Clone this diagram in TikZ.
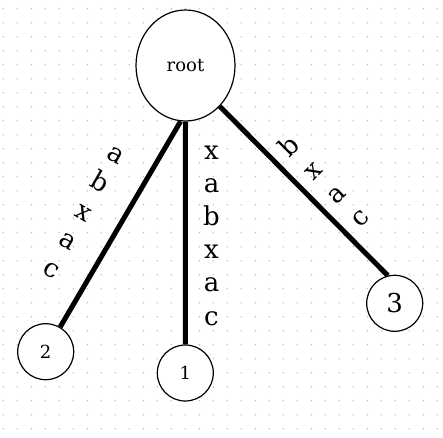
\documentclass[tikz,border=0pt]{standalone}
\usepackage{fontspec}
\setmainfont{DejaVu Serif}
\usetikzlibrary{shapes.geometric}
\definecolor{stInk}{HTML}{000000}
\definecolor{stDot}{HTML}{BDBDBD}
\tikzset{
  every picture/.style={text=stInk},
  st root/.style={ellipse, draw=stInk, line width=1.2pt, fill=white,
    minimum width=99pt, minimum height=111pt, inner sep=0pt,
    font=\fontsize{18}{22}\selectfont},
  st leaf/.style={circle, draw=stInk, line width=1.2pt, fill=white,
    minimum size=56pt, inner sep=0pt, font=\fontsize{18}{22}\selectfont},
  st edge/.style={draw=stInk, line width=5pt, line cap=butt},
  st letter/.style={inner sep=0pt, text height=13.5pt, text depth=0pt,
    font=\fontsize{26}{30}\selectfont},
  st dot/.style={fill=stDot}
}
\begin{document}
\begin{tikzpicture}[x=1pt,y=-1pt]
  \useasboundingbox (0,0) rectangle (443,437);
  \foreach \i in {0,...,31}{
    \foreach \j in {0,...,30}{
      \fill[st dot] (3.3+14*\i,8.7+14*\j) circle (0.8pt);
    }
  }
  \node[st root] (root) at (185.5,65.5) {root};
  \node[st leaf] (n2) at (45.7,351.7) {2};
  \node[st leaf] (n1) at (185.3,373) {1};
  \node[st leaf, font=\fontsize{26}{30}\selectfont] (n3) at (394.7,303.3) {3};
  \draw[st edge] (root.-95.5) -- (n2);
  \draw[st edge] (root.south) -- (n1);
  \draw[st edge] (root.-50.5) -- (n3.104);
  \foreach \ch [count=\k from 0] in {x,a,b,x,a,c}
    \node[st letter] (mid\k) at (211.5,152.3+33.2*\k) {\ch};
  \foreach \ch [count=\k from 0] in {a,b,x,a,c}
    \node[st letter, rotate=-30] (lft\k) at (115.4-16.1*\k,155.5+28.75*\k) {\ch};
  \foreach \ch [count=\k from 0] in {b,x,a,c}
    \node[st letter, rotate=45] (rgt\k) at (290.2+23.5*\k,148+23.5*\k) {\ch};
\end{tikzpicture}
\end{document}
